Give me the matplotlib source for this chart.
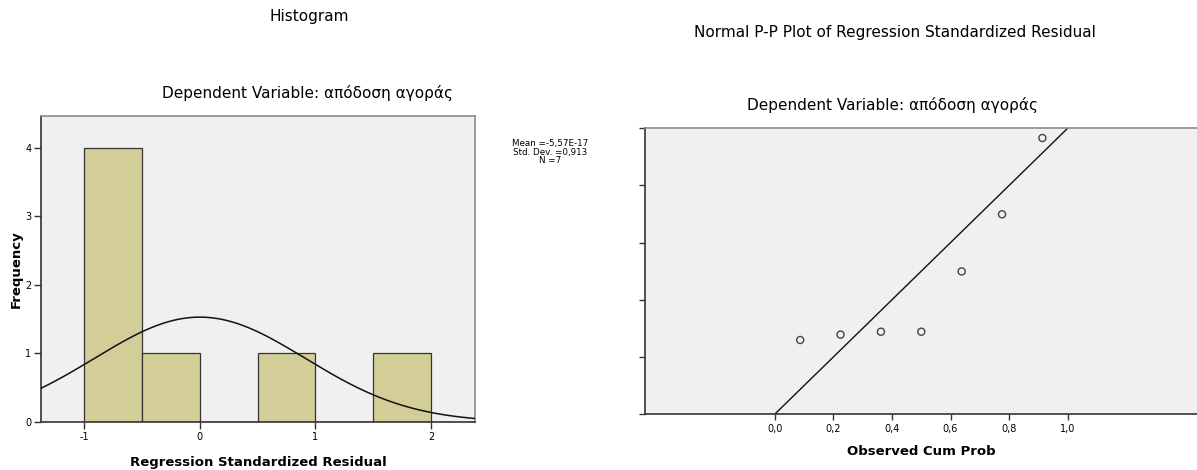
import numpy as np
import matplotlib
matplotlib.use("Agg")
import matplotlib.pyplot as plt

plt.rcParams['font.family'] = ['DejaVu Sans']
plt.rcParams['axes.unicode_minus'] = False

# Histogram of regression standardized residuals
bin_edges = [-1.0, -0.5, 0.0, 0.5, 1.0, 1.5, 2.0]
counts = [4, 1, 0, 1, 0, 1]
res_mean = -5.57e-17
res_sd = 0.913
res_n = 7

# Normal P-P plot
observed_cum = [0.0862, 0.2241, 0.3621, 0.5000, 0.6379, 0.7759, 0.9138]
expected_cum = [0.259, 0.278, 0.288, 0.288, 0.499, 0.699, 0.966]

W, H = 1197, 470
fig = plt.figure(figsize=(W / 100, H / 100), dpi=100)

BG = "#f0f0f0"
BAR = "#d3ce97"
DARK = "#333333"
LIGHT = "#8c8c8c"


def px_axes(x0, y0, x1, y1):
    return fig.add_axes([x0 / W, 1 - y1 / H, (x1 - x0) / W, (y1 - y0) / H])


def style_frame(ax):
    ax.set_facecolor(BG)
    for side in ["left", "bottom"]:
        ax.spines[side].set_color(DARK)
        ax.spines[side].set_linewidth(1.2)
    for side in ["top", "right"]:
        ax.spines[side].set_color(LIGHT)
        ax.spines[side].set_linewidth(1.2)


# ---- histogram ----
ax1 = px_axes(41, 116, 475, 422)
style_frame(ax1)
widths = np.diff(bin_edges)
ax1.bar(bin_edges[:-1], counts, width=widths, align="edge", color=BAR,
        edgecolor=DARK, linewidth=0.9, zorder=2)

# normal curve scaled to the histogram (N * bin width * pdf)
bw = widths[0]
xs = np.linspace(-1.4, 2.4, 300)
ys = res_n * bw * np.exp(-0.5 * ((xs - res_mean) / res_sd) ** 2) / (res_sd * np.sqrt(2 * np.pi))
ax1.plot(xs, ys, color="#111111", linewidth=1.1, zorder=3)

ax1.set_xlim(-1.375, 2.381)
ax1.set_ylim(0, 4.462)
ax1.set_xticks([-1, 0, 1, 2])
ax1.set_yticks([0, 1, 2, 3, 4])
ax1.tick_params(axis="both", length=5, width=1, color=DARK, labelsize=7, pad=2)
ax1.set_xlabel("Regression Standardized Residual", fontsize=9.5, fontweight="bold", labelpad=10)
ax1.set_ylabel("Frequency", fontsize=9.5, fontweight="bold", labelpad=2)

fig.text(309.7 / W, 1 - 17 / H, "Histogram", ha="center", va="center", fontsize=11)
fig.text(307.7 / W, 1 - 93 / H, "Dependent Variable: απόδοση αγοράς",
         ha="center", va="center", fontsize=11)
fig.text(550 / W, 1 - 152 / H,
         "Mean =-5,57E-17\nStd. Dev. =0,913\nN =7",
         ha="center", va="center", fontsize=6.3, linespacing=0.9)

# ---- P-P plot ----
ax2 = px_axes(645, 128.3, 1197, 414)
style_frame(ax2)
ax2.spines["right"].set_visible(False)
ax2.plot([0, 1], [0, 1], color="#111111", linewidth=1.0, zorder=2)
ax2.scatter(observed_cum, expected_cum, s=26, facecolors="none",
            edgecolors="#444444", linewidths=1.0, zorder=3)
ax2.set_xlim(-0.444, 1.442)
ax2.set_ylim(0, 1)
ax2.set_xticks([0.0, 0.2, 0.4, 0.6, 0.8, 1.0])
ax2.set_xticklabels(["0,0", "0,2", "0,4", "0,6", "0,8", "1,0"])
ax2.set_yticks([0.0, 0.2, 0.4, 0.6, 0.8, 1.0])
ax2.set_yticklabels([])
ax2.tick_params(axis="both", length=4, width=1, color=DARK, labelsize=7, pad=3)
ax2.set_xlabel("Observed Cum Prob", fontsize=9.5, fontweight="bold", labelpad=8)

fig.text(894.7 / W, 1 - 33 / H, "Normal P-P Plot of Regression Standardized Residual",
         ha="center", va="center", fontsize=11)
fig.text(892.5 / W, 1 - 105 / H, "Dependent Variable: απόδοση αγοράς",
         ha="center", va="center", fontsize=11)

fig.savefig("out.png", dpi=100, facecolor="white")
